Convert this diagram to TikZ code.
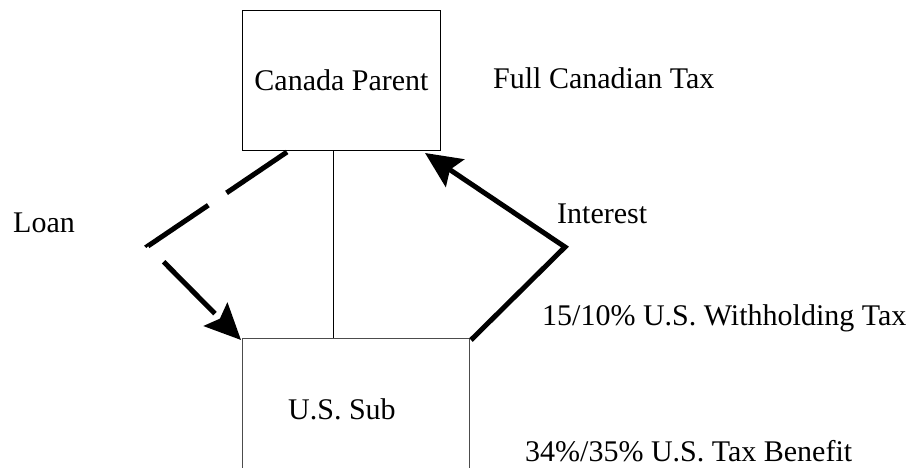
\documentclass[tikz,border=0pt]{standalone}
\usepackage{fontspec}
\setmainfont{Liberation Serif}
\usetikzlibrary{arrows.meta}
\begin{document}
\begin{tikzpicture}[x=1pt,y=-1pt,
  lbl/.style={anchor=base west,inner sep=0pt,font=\fontsize{30}{36}\selectfont},
  entity/.style={draw=black,line width=1pt,anchor=north west,inner sep=0pt,
    font=\fontsize{30}{36}\selectfont},
  flow/.style={line width=5pt,-{Stealth[length=36pt,width=33pt,inset=6pt]}},
  loanline/.style={flow,dash pattern=on 73pt off 22pt}]
  \useasboundingbox (0,0) rectangle (920,468);
  \clip (0,0) rectangle (920,468);

  % entities
  \node[entity,minimum width=198pt,minimum height=140pt] (cp) at (242,10) {Canada Parent};
  \node[entity,draw=black!70,minimum width=227pt,minimum height=182pt] (us) at (242,338) {};
  \node[lbl] (uslbl) at (288,419) {U.S. Sub};

  % annotations
  \node[lbl] (fullcan) at (493,89) {Full Canadian Tax};
  \node[lbl] (loan) at (13,232) {Loan};
  \node[lbl] (interest) at (557,223) {Interest};
  \node[lbl] (wht) at (542,325) {15/10\% U.S. Withholding Tax};
  \node[lbl] (benefit) at (525,461) {34\%/35\% U.S. Tax Benefit};

  % connection points
  \coordinate (cpmid) at (333,150);
  \coordinate (usmid) at (333,338);
  \coordinate (loanout) at (287,152);
  \coordinate (loanbend) at (148,246);
  \coordinate (loanin) at (241,340);
  \coordinate (intout) at (471,340);
  \coordinate (intbend) at (565,247);
  \coordinate (intin) at (425,153);

  % ownership link
  \draw[line width=1pt] (cpmid) -- (usmid);

  % loan and interest flows
  \draw[loanline] (loanout) -- (loanbend) -- (loanin);
  \draw[flow] (intout) -- (intbend) -- (intin);
\end{tikzpicture}
\end{document}
